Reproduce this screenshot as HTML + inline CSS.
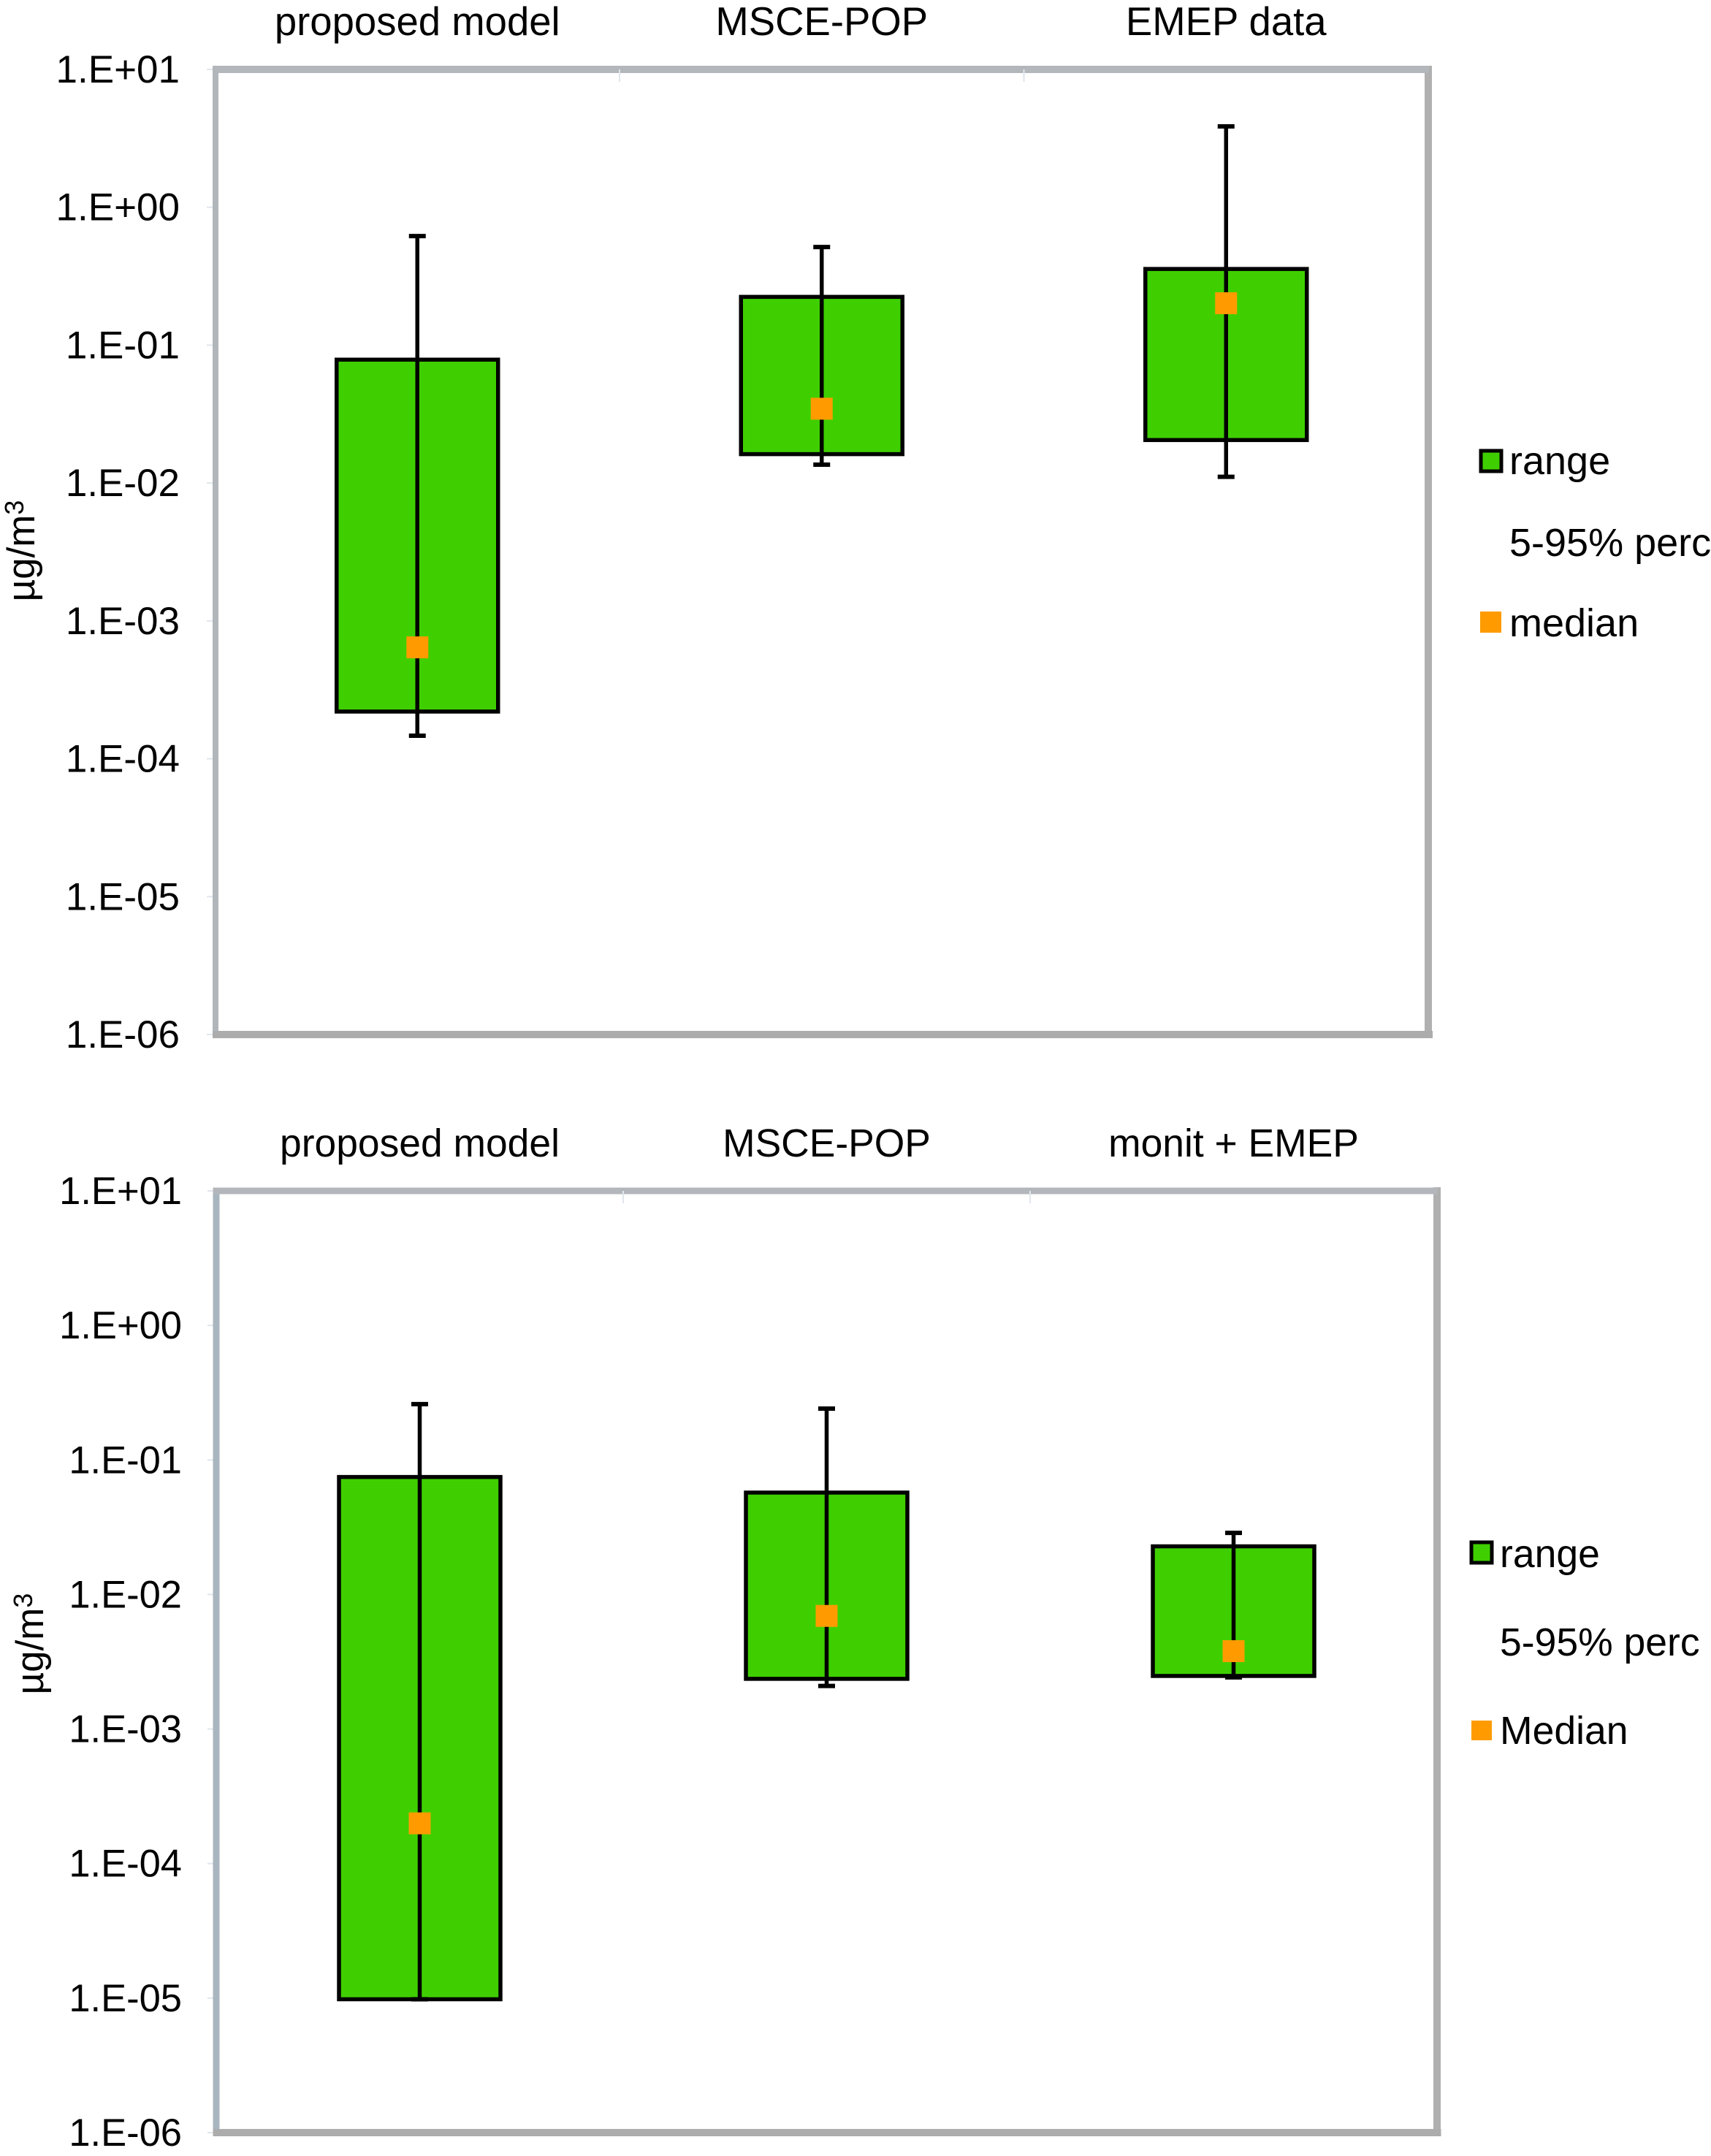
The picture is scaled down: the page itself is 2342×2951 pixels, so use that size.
<!DOCTYPE html>
<html lang="en">
<head>
<meta charset="utf-8">
<title>Concentration range comparison charts</title>
<style>
html,body{margin:0;padding:0;background:#fff;width:2342px;height:2951px;overflow:hidden}
svg{display:block;font-family:"Liberation Sans",Arial,sans-serif;fill:#000}
</style>
</head>
<body>
<svg id="figure" xmlns="http://www.w3.org/2000/svg" width="2342" height="2951" viewBox="0 0 2342 2951"></svg>
<script>
const tickValues = [10, 1, 0.1, 0.01, 0.001, 0.0001, 0.00001, 0.000001];
const tickLabels = ["1.E+01", "1.E+00", "1.E-01", "1.E-02", "1.E-03", "1.E-04", "1.E-05", "1.E-06"];

const topCategories = ["proposed model", "MSCE-POP", "EMEP data"];
const topRangeHigh = [0.0785, 0.224, 0.357];
const topRangeLow = [0.00022, 0.0162, 0.0205];
const topWhiskerHigh = [0.618, 0.515, 3.86];
const topWhiskerLow = [0.000147, 0.0136, 0.0111];
const topMedian = [0.000643, 0.0346, 0.2014];
const topLegend = ["range", "5-95% perc", "median"];

const bottomCategories = ["proposed model", "MSCE-POP", "monit + EMEP"];
const bottomRangeHigh = [0.0747, 0.0572, 0.0228];
const bottomRangeLow = [0.0000098, 0.00236, 0.00248];
const bottomWhiskerHigh = [0.26, 0.241, 0.0287];
const bottomWhiskerLow = [0.0000098, 0.00209, 0.00242];
const bottomMedian = [0.000199, 0.00693, 0.00379];
const bottomLegend = ["range", "5-95% perc", "Median"];

const NS = "http://www.w3.org/2000/svg";
const figure = document.getElementById("figure");

function make(parent, tag, attrs, text) {
  const el = document.createElementNS(NS, tag);
  for (const k in attrs) el.setAttribute(k, attrs[k]);
  if (text !== undefined) el.textContent = text;
  parent.appendChild(el);
  return el;
}

function drawChart(cfg) {
  const group = make(figure, "g", {});
  
  

  const yScale = v => cfg.top + (Math.log10(tickValues[0]) - Math.log10(v)) * (cfg.bottom - cfg.top) / (Math.log10(tickValues[0]) - Math.log10(tickValues[tickValues.length - 1]));
  const band = (cfg.right - cfg.left) / cfg.categories.length;
  const xScale = i => cfg.left + (i + 0.5) * band;

  // value-axis ticks and labels
  tickValues.forEach((v, i) => {
    const tick = make(group, "line", {x1: cfg.frameLeft - 12, x2: cfg.frameLeft + 4, y1: yScale(v), y2: yScale(v), stroke: "#dfe6ec", "stroke-width": 2});
    
    
    const label = make(group, "text", {x: cfg.labelRight, y: yScale(v) + 18, "text-anchor": "end", "font-size": cfg.labelSize}, tickLabels[i]);
    
    
  });

  // plot frame
  const frameParts = [
    ["frame-left", cfg.frameLeft - cfg.leftWidth / 2, cfg.top, cfg.leftWidth, cfg.bottom - cfg.top, cfg.leftColor],
    ["frame-right", cfg.frameRight - 5, cfg.top - 5, 10, cfg.bottom - cfg.top + 10, "#b0b0b0"],
    ["frame-top", cfg.frameLeft - cfg.leftWidth / 2, cfg.top - cfg.topHeight / 2, cfg.frameRight - cfg.frameLeft + 5, cfg.topHeight, "#b3b7bb"],
    ["frame-bottom", cfg.frameLeft - cfg.leftWidth / 2, cfg.bottom - 5, cfg.frameRight - cfg.frameLeft + 10, 10, "#acacac"]
  ];
  frameParts.forEach(p => {
    const part = make(group, "rect", {x: p[1], y: p[2], width: p[3], height: p[4], fill: p[5]});
    
    
  });

  // category separator ticks on top edge
  for (let i = 1; i < cfg.categories.length; i++) {
    const sep = make(group, "line", {x1: cfg.left + i * band, x2: cfg.left + i * band, y1: cfg.top, y2: cfg.top + 17, stroke: "#dfe6ec", "stroke-width": 2});
    
    
  }

  // category titles, boxes, whiskers, medians
  cfg.categories.forEach((cat, i) => {
    const x = xScale(i);
    const title = make(group, "text", {x: x, y: cfg.titleY, "text-anchor": "middle", "font-size": cfg.titleSize}, cat);
    
    

    const yHi = yScale(cfg.rangeHigh[i]);
    const yLo = yScale(cfg.rangeLow[i]);
    const box = make(group, "rect", {x: x - cfg.boxHalf, y: yHi, width: cfg.boxHalf * 2, height: yLo - yHi, fill: "#3fcf00", stroke: "#000", "stroke-width": 5.5});
    
    

    const wHi = yScale(cfg.whiskerHigh[i]);
    const wLo = yScale(cfg.whiskerLow[i]);
    const whisker = make(group, "line", {x1: x, x2: x, y1: wHi, y2: wLo, stroke: "#000", "stroke-width": 5.5});
    
    
    [wHi, wLo].forEach(y => {
      const cap = make(group, "line", {x1: x - 11.5, x2: x + 11.5, y1: y, y2: y, stroke: "#000", "stroke-width": 6});
      
      
    });

    const med = yScale(cfg.median[i]);
    const marker = make(group, "rect", {x: x - 15, y: med - 15, width: 30, height: 30, fill: "#ff9b00"});
    
    
  });

  // y axis title
  const yTitle = make(group, "text", {transform: "translate(" + cfg.yTitleX + "," + cfg.yTitleY + ") rotate(-90)", "text-anchor": "middle", "font-size": 53});
  
  
  make(yTitle, "tspan", {}, "µg/m");
  make(yTitle, "tspan", {dy: -15, "font-size": 36}, "3");

  // legend
  const rangeSwatch = make(group, "rect", {x: cfg.legendRange[0], y: cfg.legendRange[1], width: 28, height: 28, fill: "#3fcf00", stroke: "#000", "stroke-width": 5});
  
  
  const medianSwatch = make(group, "rect", {x: cfg.legendMedian[0], y: cfg.legendMedian[1], width: cfg.legendMedian[2], height: cfg.legendMedian[3], fill: "#ff9b00"});
  
  
  cfg.legend.forEach((txt, i) => {
    const entry = make(group, "text", {x: cfg.legendTextX, y: cfg.legendBaselines[i], "font-size": cfg.legendSize}, txt);
    
    
  });
}

drawChart({
  name: "top-chart",
  categories: topCategories, rangeHigh: topRangeHigh, rangeLow: topRangeLow,
  whiskerHigh: topWhiskerHigh, whiskerLow: topWhiskerLow, median: topMedian, legend: topLegend,
  left: 294.5, right: 1955, top: 95, bottom: 1416,
  frameLeft: 295, frameRight: 1955, leftWidth: 8, topHeight: 10, leftColor: "#b1b6bb",
  labelRight: 246, labelSize: 53, titleY: 48, titleSize: 54.5, boxHalf: 110.5,
  yTitleX: 47, yTitleY: 754,
  legendRange: [2027, 617], legendMedian: [2026, 837, 29, 29],
  legendTextX: 2066, legendBaselines: [649, 761, 871], legendSize: 54
});

drawChart({
  name: "bottom-chart",
  categories: bottomCategories, rangeHigh: bottomRangeHigh, rangeLow: bottomRangeLow,
  whiskerHigh: bottomWhiskerHigh, whiskerLow: bottomWhiskerLow, median: bottomMedian, legend: bottomLegend,
  left: 296, right: 1967, top: 1630, bottom: 2919,
  frameLeft: 296, frameRight: 1967, leftWidth: 9, topHeight: 9, leftColor: "#a9b5bf",
  labelRight: 249, labelSize: 52.5, titleY: 1583, titleSize: 53.4, boxHalf: 110.5,
  yTitleX: 59, yTitleY: 2250,
  legendRange: [2014, 2111], legendMedian: [2014, 2355, 28, 27],
  legendTextX: 2053, legendBaselines: [2145, 2266, 2387], legendSize: 53.5
});
</script>
</body>
</html>
